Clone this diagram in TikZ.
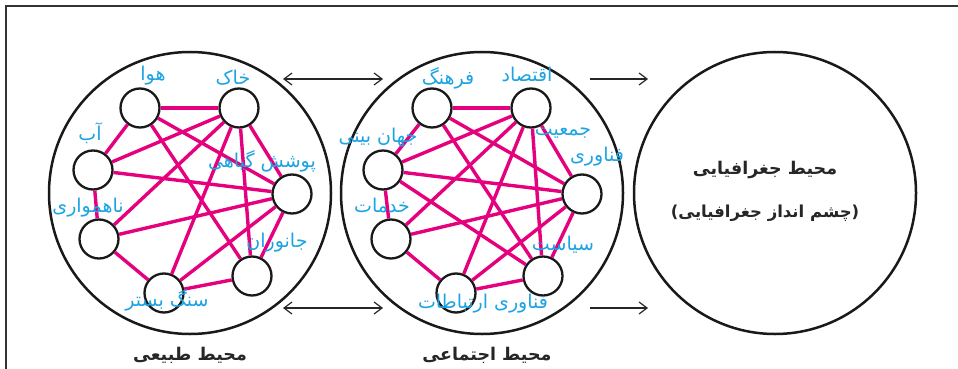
\documentclass[tikz,border=0pt]{standalone}
\usepackage{fontspec}
\usetikzlibrary{arrows.meta}
\newfontfamily\arabicfont[Script=Arabic]{DejaVu Sans}
\newfontfamily\plainfont{DejaVu Sans}
\TeXXeTstate=1
\definecolor{edgec}{HTML}{E5007D}
\definecolor{labc}{HTML}{1CA3E3}
\definecolor{framec}{HTML}{333333}
\begin{document}
\begin{tikzpicture}[x=1pt,y=-1pt,
  bigc/.style={circle, draw=black!90, line width=2.5pt, minimum size=282pt, inner sep=0},
  smallc/.style={circle, draw=black!90, line width=2.3pt, minimum size=39pt, inner sep=0, fill=white},
  link/.style={draw=edgec, line width=3.4pt},
  lab/.style={text=labc, font=\arabicfont\fontsize{19}{19}\selectfont, inner sep=0},
  ttl/.style={text=black!85, font=\arabicfont\bfseries\fontsize{17.5}{43}\selectfont, inner sep=0, align=center},
  ttlb/.style={text=black!85, font=\arabicfont\bfseries\fontsize{16.5}{20}\selectfont, inner sep=0},
  arr/.style={draw=black!85, line width=1.2pt},
  tip/.tip={Straight Barb[length=8pt,width=12pt,line width=1.2pt]}
]
\useasboundingbox (0,0) rectangle (958,369);
% frame
\draw[framec, line width=2.6pt] (6,371) -- (6,6) -- (960,6);

% big circles
\node[bigc] (N) at (190,193) {};
\node[bigc] (S) at (482,193) {};
\node[bigc] (G) at (775,193) {};
\node[ttl] (Gt) at (765,170) {\beginR محیط جغرافیایی\endR};
\node[ttlb] (Gt2) at (765,213) {{\plainfont\bfseries(}\beginR چشم انداز جغرافیایی\endR{\plainfont\bfseries)}};

% small circles: natural
\node[smallc] (a1) at (140,108) {};
\node[smallc] (b1) at (239,108) {};
\node[smallc] (c1) at (93,170) {};
\node[smallc] (d1) at (292,194) {};
\node[smallc] (e1) at (99,239) {};
\node[smallc] (f1) at (252,276) {};
\node[smallc] (g1) at (164,293) {};
% small circles: social
\node[smallc] (a2) at (432,108) {};
\node[smallc] (b2) at (531,108) {};
\node[smallc] (c2) at (383,170) {};
\node[smallc] (d2) at (582,194) {};
\node[smallc] (e2) at (391,239) {};
\node[smallc] (f2) at (543,276) {};
\node[smallc] (g2) at (456,293) {};

% links
\foreach \i in {1,2}{
  \draw[link] (a\i) -- (b\i);
  \draw[link] (a\i) -- (c\i);
  \draw[link] (a\i) -- (d\i);
  \draw[link] (a\i) -- (f\i);
  \draw[link] (b\i) -- (c\i);
  \draw[link] (b\i) -- (e\i);
  \draw[link] (b\i) -- (g\i);
  \draw[link] (b\i) -- (f\i);
  \draw[link] (b\i) -- (d\i);
  \draw[link] (c\i) -- (d\i);
  \draw[link] (c\i) -- (e\i);
  \draw[link] (e\i) -- (d\i);
  \draw[link] (e\i) -- (g\i);
  \draw[link] (d\i) -- (g\i);
  \draw[link] (d\i) -- (f\i);
  \draw[link] (f\i) -- (g\i);
}
\draw[link] (c2) -- (f2);

% labels natural
\node[lab] (la1) at (153,76) {\beginR هوا\endR};
\node[lab] (lb1) at (233,78) {\beginR خاک\endR};
\node[lab] (lc1) at (90,133) {\beginR آب\endR};
\node[lab] (ld1) at (262,161) {\beginR پوشش گیاهی\endR};
\node[lab] (le1) at (88,208) {\beginR ناهمواری\endR};
\node[lab] (lf1) at (277,243) {\beginR جانوران\endR};
\node[lab] (lg1) at (167,300) {\beginR سنگ بستر\endR};
% labels social
\node[lab] (la2) at (448,78) {\beginR فرهنگ\endR};
\node[lab] (lb2) at (527,74) {\beginR اقتصاد\endR};
\node[lab] (lc2) at (378,138) {\beginR جهان بینی\endR};
\node[lab] (ld2) at (563,133) {\beginR جمعیت\endR};
\node[lab] (ld2b) at (597,157) {\beginR فناوری\endR};
\node[lab] (le2) at (382,206) {\beginR خدمات\endR};
\node[lab] (lf2) at (563,245) {\beginR سیاست\endR};
\node[lab] (lg2) at (483,304) {\beginR فناوری ارتباطات\endR};

% titles
\node[ttl] (Nt) at (190,355) {\beginR محیط طبیعی\endR};
\node[ttl] (St) at (487,355) {\beginR محیط اجتماعی\endR};

% arrows
\coordinate (p1) at (283,79); \coordinate (q1) at (383,79);
\coordinate (p2) at (283,308); \coordinate (q2) at (383,308);
\coordinate (p3) at (590,79); \coordinate (q3) at (648,79);
\coordinate (p4) at (590,308); \coordinate (q4) at (648,308);
\draw[arr, {tip}-{tip}] (p1) -- (q1);
\draw[arr, {tip}-{tip}] (p2) -- (q2);
\draw[arr, -{tip}] (p3) -- (q3);
\draw[arr, -{tip}] (p4) -- (q4);
\end{tikzpicture}
\end{document}
